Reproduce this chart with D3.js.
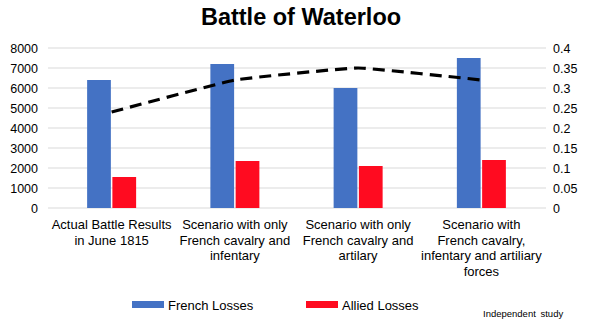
<!DOCTYPE html>
<html>
<head>
<meta charset="utf-8">
<script src="https://cdn.jsdelivr.net/npm/d3@7"></script>
<style>
  html, body { margin: 0; padding: 0; background: #fff; }
  svg { display: block; font-family: "Liberation Sans", Arial, Helvetica, sans-serif; }
</style>
</head>
<body>
<svg id="chart" width="592" height="327"></svg>
<script>
// Scenarios compared
const categories = [
  "Actual Battle Results in June 1815",
  "Scenario with only French cavalry and infentary",
  "Scenario with only French cavalry and artilary",
  "Scenario with French cavalry, infentary and artiliary forces"
];
// Label lines for each category
const categoryLines = [
  ["Actual Battle Results", "in June 1815"],
  ["Scenario with only", "French cavalry and", "infentary"],
  ["Scenario with only", "French cavalry and", "artilary"],
  ["Scenario with", "French cavalry,", "infentary and artiliary", "forces"]
];
const seriesNames = ["French Losses", "Allied Losses"];
const frenchLosses = [6400, 7200, 6000, 7500];
const alliedLosses = [1550, 2350, 2100, 2400];
// Allied-to-French loss ratio (right axis)
const lossRatio = [0.24, 0.32, 0.35, 0.32];
const leftTicks = [0, 1000, 2000, 3000, 4000, 5000, 6000, 7000, 8000];
const rightTicks = [0, 0.05, 0.1, 0.15, 0.2, 0.25, 0.3, 0.35, 0.4];
const colors = ["#4472c4", "#ff0b20"];

const svg = d3.select("#chart");
const plot = { left: 50, right: 543, top: 48, bottom: 208 };

const x0 = d3.scaleBand().domain(categories).range([plot.left, plot.right]).padding(0);
const groupW = 49;
const x1 = d3.scaleBand().domain(seriesNames).range([-groupW / 2, groupW / 2]).paddingInner(0.06);
const yL = d3.scaleLinear().domain([0, 8000]).range([plot.bottom, plot.top]);
const yR = d3.scaleLinear().domain([0, 0.4]).range([plot.bottom, plot.top]);

// Title
svg.append("text")
  .attr("x", 301).attr("y", 25)
  .attr("text-anchor", "middle")
  .attr("font-size", 23.5).attr("font-weight", "bold")
  .attr("fill", "#000")
  .text("Battle of Waterloo");

// Gridlines
svg.append("g")
  .selectAll("line")
  .data(leftTicks)
  .join("line")
  .attr("x1", plot.left - 2).attr("x2", plot.right + 3)
  .attr("y1", d => yL(d)).attr("y2", d => yL(d))
  .attr("stroke", "#d9d9d9").attr("stroke-width", 1);

// Left axis
const leftAxis = svg.append("g")
  .attr("transform", `translate(${plot.left - 2},0)`)
  .call(d3.axisLeft(yL).tickValues(leftTicks).tickFormat(d3.format("d")).tickSize(0).tickPadding(10));
leftAxis.select(".domain").remove();
leftAxis.selectAll("text").attr("font-size", 12.5).attr("fill", "#000")
  .attr("font-family", "'Liberation Sans', Arial, sans-serif");

// Right axis
const rightAxis = svg.append("g")
  .attr("transform", `translate(${plot.right + 3},0)`)
  .call(d3.axisRight(yR).tickValues(rightTicks).tickFormat(d => d3.format("")(+d.toFixed(2))).tickSize(0).tickPadding(7));
rightAxis.select(".domain").remove();
rightAxis.selectAll("text").attr("font-size", 12.5).attr("fill", "#000")
  .attr("font-family", "'Liberation Sans', Arial, sans-serif");

// Bars
const rows = categories.map((c, i) => ({ cat: c, vals: [frenchLosses[i], alliedLosses[i]] }));
const groups = svg.append("g").selectAll("g")
  .data(rows)
  .join("g")
  .attr("transform", d => `translate(${x0(d.cat) + x0.bandwidth() / 2},0)`);
groups.selectAll("rect")
  .data(d => d.vals.map((v, k) => ({ name: seriesNames[k], v, k })))
  .join("rect")
  .attr("x", d => x1(d.name))
  .attr("width", x1.bandwidth())
  .attr("y", d => yL(d.v))
  .attr("height", d => yL(0) - yL(d.v))
  .attr("fill", d => colors[d.k]);

// Ratio line, lightly smoothed
const line = d3.line()
  .x((d, i) => x0(categories[i]) + x0.bandwidth() / 2)
  .y(d => yR(d))
  .curve(d3.curveCardinal.tension(0.7));
svg.append("path")
  .datum(lossRatio)
  .attr("d", line)
  .attr("fill", "none")
  .attr("stroke", "#000")
  .attr("stroke-width", 3.2)
  .attr("stroke-dasharray", "12,7");

// Category labels
const labels = svg.append("g").selectAll("text")
  .data(categories)
  .join("text")
  .attr("text-anchor", "middle")
  .attr("font-size", 13)
  .attr("fill", "#000")
  .attr("x", d => x0(d) + x0.bandwidth() / 2)
  .attr("y", 229);
labels.each(function (d, i) {
  d3.select(this).selectAll("tspan")
    .data(categoryLines[i])
    .join("tspan")
    .attr("x", x0(d) + x0.bandwidth() / 2)
    .attr("dy", (t, j) => j === 0 ? 0 : 15.5)
    .text(t => t);
});

// Legend
const legendPos = [{ rx: 132, tx: 168 }, { rx: 306, tx: 342 }];
const legend = svg.append("g").selectAll("g")
  .data(seriesNames)
  .join("g");
legend.append("rect")
  .attr("x", (d, i) => legendPos[i].rx).attr("y", 301)
  .attr("width", 32).attr("height", 7)
  .attr("fill", (d, i) => colors[i]);
legend.append("text")
  .attr("x", (d, i) => legendPos[i].tx).attr("y", 310)
  .attr("font-size", 13).attr("fill", "#000")
  .text(d => d);

// Source note
svg.append("text")
  .attr("x", 483).attr("y", 317)
  .attr("font-size", 9.5).attr("fill", "#000")
  .attr("word-spacing", 2)
  .text("Independent study");
</script>
</body>
</html>
